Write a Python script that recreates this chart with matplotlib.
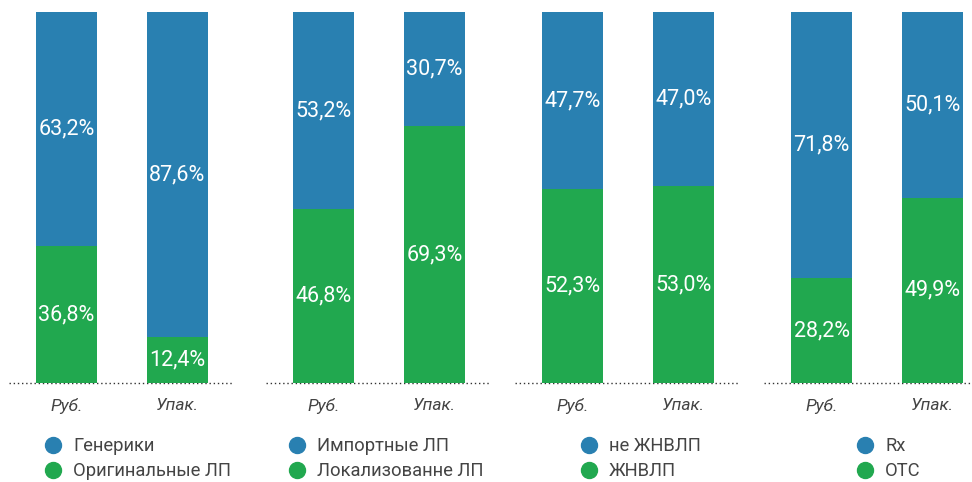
import matplotlib
matplotlib.use("Agg")
import matplotlib.pyplot as plt
from matplotlib.lines import Line2D

plt.rcParams['font.family'] = ['Roboto', 'DejaVu Sans']

categories = ["Руб.", "Упак."]

blue_labels = ["Генерики", "Импортные ЛП", "не ЖНВЛП", "Rx"]
green_labels = ["Оригинальные ЛП", "Локализованне ЛП", "ЖНВЛП", "OTC"]

green_values = [
    [36.8, 12.4],
    [46.8, 69.3],
    [52.3, 53.0],
    [28.2, 49.9],
]
blue_values = [
    [63.2, 87.6],
    [53.2, 30.7],
    [47.7, 47.0],
    [71.8, 50.1],
]

BLUE = "#2980b1"
GREEN = "#21a84f"
TEXT = "#444444"

W, H = 972, 482
fig = plt.figure(figsize=(W / 100, H / 100), dpi=100)

first_bar_centers = [66.5, 323.5, 572.5, 821.5]  # pixels
legend_x = [44.5, 288.5, 580.5, 856.5]           # pixels (left of handle box)
spacing = 111.0
top_px, base_px = 12, 383

def fmt(v):
    return f"{v:.1f}".replace(".", ",") + "%"

for k in range(4):
    left_px = first_bar_centers[k] - 57.5
    ax = fig.add_axes([left_px / W, (H - base_px) / H, 223 / W, (base_px - top_px) / H])
    x = [0, 1]
    ax.bar(x, green_values[k], width=61 / spacing, color=GREEN, zorder=2)
    ax.bar(x, blue_values[k], bottom=green_values[k], width=61 / spacing, color=BLUE, zorder=2)
    for i in range(2):
        g = green_values[k][i]
        b = blue_values[k][i]
        ax.text(x[i], g / 2, fmt(g), ha="center", va="center", color="white", fontsize=15.5, zorder=3)
        ax.text(x[i], g + b / 2, fmt(b), ha="center", va="center", color="white", fontsize=15.5, zorder=3)
    ax.set_xlim(-57.5 / spacing, 1 + 54.5 / spacing)
    ax.set_ylim(0, 100)
    ax.axhline(0, color="#333333", lw=1, ls=(0, (1, 2)), zorder=1, clip_on=False)
    for s in ax.spines.values():
        s.set_visible(False)
    ax.set_yticks([])
    ax.set_xticks(x)
    ax.set_xticklabels(categories, fontsize=12.5, style="italic", color=TEXT)
    ax.tick_params(axis="x", length=0, pad=10.5)
    ax.patch.set_alpha(0)

    handles = [
        Line2D([], [], marker="o", ls="none", color=BLUE, markersize=11.5),
        Line2D([], [], marker="o", ls="none", color=GREEN, markersize=11.5),
    ]
    fig.legend(handles, [blue_labels[k], green_labels[k]],
               loc="upper left",
               bbox_to_anchor=(legend_x[k] / W, 1 - 437 / H),
               frameon=False, fontsize=13.25, labelcolor=TEXT,
               handlelength=0.95, handletextpad=0.6, labelspacing=0.4,
               borderpad=0, borderaxespad=0)

fig.savefig("out.png", dpi=100)
